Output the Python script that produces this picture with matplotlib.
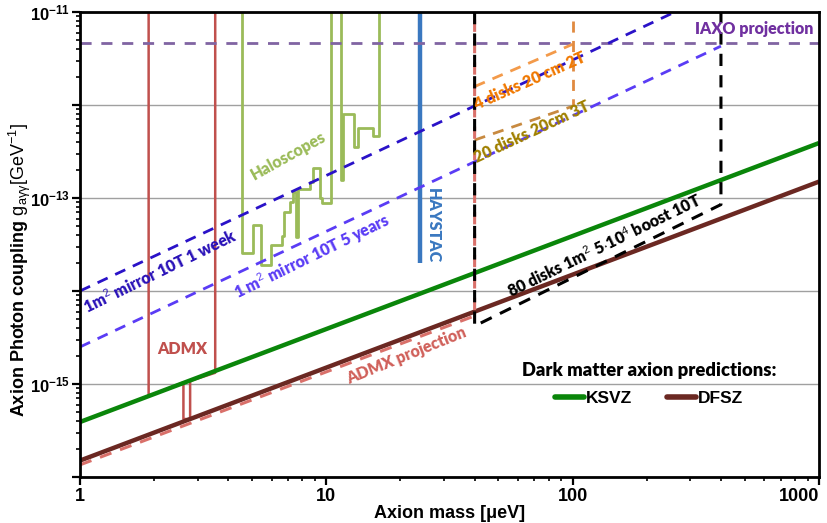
import numpy as np
import matplotlib.pyplot as plt
from matplotlib.lines import Line2D
from matplotlib.ticker import LogLocator, FuncFormatter, NullFormatter

plt.rcParams['mathtext.fontset'] = 'custom'
plt.rcParams['mathtext.rm'] = 'Liberation Sans'
plt.rcParams['mathtext.bf'] = 'Liberation Sans:bold'
plt.rcParams['font.family'] = ['Liberation Sans', 'DejaVu Sans']

# --- данные (масса в мкэВ, g в ГэВ^-1) ---
mass_range = [1, 1000]
ksvz_g = [3.9e-16, 3.9e-13]
dfsz_g = [1.5e-16, 1.5e-13]

admx_proj_m = [1, 40, 40]
admx_proj_g = [1.35e-16, 5.4e-15, 1e-11]

iaxo_g = [4.7e-12, 4.7e-12]

mirror_week_m = [1, 260]
mirror_week_g = [1.0e-14, 1.0e-11]
mirror_5y_m = [1, 400]
mirror_5y_g = [2.5e-15, 4.3e-12]

disks80_m = [40, 40, 400, 400]
disks80_g = [1e-11, 4.2e-15, 8.5e-14, 1e-11]

disks4_m = [40, 100]
disks4_g = [1.58e-12, 4.5e-12]
disks4_edge_m = [100, 100]
disks4_edge_g = [8e-12, 9.7e-13]

disks20_m = [40, 100]
disks20_g = [4.2e-13, 9.7e-13]

haystac_m = [23.9, 23.9]
haystac_g = [1e-11, 2.0e-14]

admx_m = [1.90, 1.90, 2.63, 2.63, 2.80, 2.80, 3.54, 3.54]
admx_g = [1e-11, 7.4e-16, 1.04e-15, 4.2e-16, 4.2e-16, 1.08e-15, 1.32e-15, 1e-11]

halo1_m = [4.54, 4.54, 5.05, 5.05, 5.43, 5.43, 5.96, 5.96, 6.60, 6.60, 6.75, 6.75,
           7.14, 7.14, 7.34, 7.34, 7.55, 7.55, 7.70, 7.70, 8.61, 8.61, 8.85, 8.85,
           9.45, 9.45, 9.63, 9.63, 10.4, 10.4]
halo1_g = [1e-11, 2.54e-14, 2.54e-14, 5.1e-14, 5.1e-14, 1.89e-14, 1.89e-14, 3.1e-14,
           3.1e-14, 3.9e-14, 3.9e-14, 7.1e-14, 7.1e-14, 9.05e-14, 9.05e-14, 1.16e-13,
           1.16e-13, 3.8e-14, 3.8e-14, 1.25e-13, 1.25e-13, 1.49e-13, 1.49e-13, 2.11e-13,
           2.11e-13, 1.0e-13, 1.0e-13, 8.8e-14, 8.8e-14, 1e-11]
halo2_m = [11.5, 11.5, 11.7, 11.7, 13.0, 13.0, 13.4, 13.4, 15.5, 15.5, 16.3, 16.3]
halo2_g = [1e-11, 1.57e-13, 1.57e-13, 8.1e-13, 8.1e-13, 3.56e-13, 3.56e-13, 5.7e-13,
           5.7e-13, 4.68e-13, 4.68e-13, 1e-11]

x_ticks = [1, 10, 100, 1000]
y_labelled = [-11, -13, -15]

# --- рисунок ---
fig = plt.figure(figsize=(8.27, 5.23), dpi=100)
ax = fig.add_axes([0.0967, 0.088, 0.8936, 0.889])
ax.set_xscale('log')
ax.set_yscale('log')
ax.set_xlim(1, 1000)
ax.set_ylim(1e-16, 1e-11)

ax.yaxis.grid(True, which='major', color='#a0a0a0', lw=1)
ax.set_axisbelow(True)

green = '#9bbb59'
ax.plot(halo1_m, halo1_g, color=green, lw=2)
ax.plot(halo2_m, halo2_g, color=green, lw=2)
ax.plot(admx_m, admx_g, color='#c0504d', lw=1.8)
ax.plot(haystac_m, haystac_g, color='#3a78c0', lw=3.2, solid_capstyle='butt')

ax.plot(mass_range, iaxo_g, color='#8064a2', lw=2, dashes=(4, 3.5))
ax.plot(mirror_week_m, mirror_week_g, color='#2a12c8', lw=2, dashes=(4, 3))
ax.plot(mirror_5y_m, mirror_5y_g, color='#5a3cf5', lw=2, dashes=(4, 3))
ax.plot(disks4_m, disks4_g, color='#f39a4a', lw=2, dashes=(4, 3))
ax.plot(disks4_edge_m, disks4_edge_g, color='#e08a40', lw=2, dashes=(4, 3))
ax.plot(disks20_m, disks20_g, color='#c88a40', lw=2, dashes=(4, 3))

ax.plot(mass_range, ksvz_g, color='#0a860a', lw=3.2, solid_capstyle='butt')
ax.plot(mass_range, dfsz_g, color='#6b2822', lw=3.2, solid_capstyle='butt')
ax.plot(admx_proj_m, admx_proj_g, color='#d9706a', lw=2.2, dashes=(4, 3))
ax.plot(disks80_m, disks80_g, color='black', lw=2.2, dashes=(4, 3))

# --- подписи ---
tf = dict(family=['Lato', 'DejaVu Sans'], fontweight='heavy', fontsize=11.5,
          ha='center', va='center', rotation_mode='anchor')
ax.text(7.0, 2.85e-13, 'Haloscopes', color=green, rotation=29, **tf)
ax.text(2.11, 1.63e-14, '1m$^2$ mirror 10T 1 week', color='#2a12b8', rotation=26, **tf)
ax.text(8.8, 2.36e-14, '1 m$^2$ mirror 10T 5 years', color='#5a3cf5', rotation=26, **tf)
ax.text(27.0, 5.1e-14, 'HAYSTAC', color='#3a78c0', rotation=-90, **tf)
ax.text(2.6, 2.4e-15, 'ADMX', color='#c0504d', rotation=0, **tf)
ax.text(21.1, 2.0e-15, 'ADMX projection', color='#d0605a', rotation=22, **tf)
ax.text(134, 3.1e-14, '80 disks 1m$^2$ 5$\\cdot$10$^4$ boost 10T', color='black', rotation=26, **tf)
ax.text(67, 1.8e-12, '4 disks 20 cm 2T', color='#f07800', rotation=24, **tf)
ax.text(68, 5.1e-13, '20 disks 20cm 3T', color='#a08000', rotation=25, **tf)
ax.text(946, 6.5e-12, 'IAXO projection', color='#7030a0', family=['Lato', 'DejaVu Sans'],
        fontweight='heavy', fontsize=11.5, ha='right', va='center')

# --- легенда ---
handles = [Line2D([], [], color='#0a860a', lw=4, solid_capstyle='round'),
           Line2D([], [], color='#6b2822', lw=4, solid_capstyle='round')]
leg = ax.legend(handles, ['KSVZ', 'DFSZ'], ncol=2, frameon=False, loc='center',
                bbox_to_anchor=(0.77, 0.2), title='Dark matter axion predictions:',
                prop=dict(family='Liberation Sans', weight='bold', size=12.5),
                title_fontproperties=dict(family='Lato', weight='heavy', size=13.2),
                handlelength=1.7, handletextpad=0.1, columnspacing=2.0, labelspacing=0.2)
leg._legend_box.sep = 8

# --- оси ---
ax.xaxis.set_major_locator(plt.FixedLocator(x_ticks))
ax.xaxis.set_major_formatter(FuncFormatter(lambda v, p: '%d' % round(v)))
ax.xaxis.set_minor_formatter(NullFormatter())
ax.yaxis.set_major_locator(LogLocator(base=10, numticks=10))
ax.yaxis.set_minor_locator(LogLocator(base=10, subs=np.arange(2, 10), numticks=20))
ax.yaxis.set_major_formatter(FuncFormatter(
    lambda v, p: r'$\mathbf{10^{%d}}$' % round(np.log10(v)) if round(np.log10(v)) in y_labelled else ''))
ax.yaxis.set_minor_formatter(NullFormatter())
ax.tick_params(axis='both', which='major', direction='out', length=6, width=1.6,
               right=False, top=False)
ax.tick_params(axis='x', which='major', labelsize=13, pad=2)
ax.tick_params(axis='y', which='major', labelsize=12, pad=1)
ax.tick_params(axis='both', which='minor', direction='out', length=3, width=1.2,
               right=False, top=False)
fig.canvas.draw()
for lab in ax.get_xticklabels():
    lab.set_fontweight('bold')
ax.get_xticklabels()[-1].set_horizontalalignment('right')
for s in ax.spines.values():
    s.set_linewidth(2)

ax.set_xlabel('Axion mass [μeV]', fontsize=13, fontweight='bold', labelpad=0)
ax.set_ylabel('Axion Photon coupling $\\mathrm{g_{a\\gamma\\gamma}[GeV^{-1}]}$',
              fontsize=13, fontweight='bold')
ax.yaxis.label.set_verticalalignment('center')
ax.yaxis.set_label_coords(-0.081, 0.445)

fig.savefig('out.png', dpi=100)
